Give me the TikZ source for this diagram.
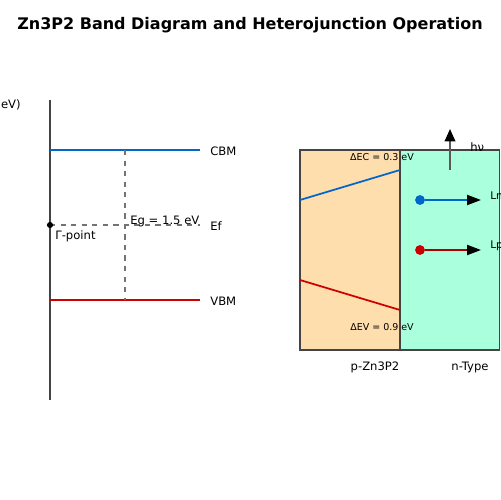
\documentclass[tikz,border=0pt]{standalone}
\usepackage{fontspec}
\setmainfont{DejaVu Sans}
\usetikzlibrary{arrows.meta}
\definecolor{cbblue}{RGB}{0,102,204}
\definecolor{vbred}{RGB}{204,0,0}
\definecolor{pfill}{RGB}{255,222,173}
\definecolor{nfill}{RGB}{170,255,221}
\definecolor{axisgray}{RGB}{68,68,68}
\tikzset{
  lbl/.style={font=\fontsize{6.6}{7}\selectfont, inner sep=0pt},
  small/.style={font=\fontsize{5.4}{6}\selectfont, inner sep=0pt},
  band/.style={line width=1pt},
  guide/.style={dashed, gray!90!black, line width=0.6pt},
  region/.style={draw=axisgray, line width=0.6pt},
  tip/.style={-{Triangle[length=7.9pt,width=5.7pt,color=black]}, line width=1pt},
  dotn/.style={circle, inner sep=0pt, minimum size=5.6pt},
}
\begin{document}
\begin{tikzpicture}[x=0.02cm,y=-0.02cm]
\useasboundingbox (0,0) rectangle (500,500);
\node[font=\bfseries\fontsize{9.1}{11}\selectfont] (title) at (250,25) {Zn3P2 Band Diagram and Heterojunction Operation};
% left band diagram
\coordinate (axtop) at (50,100);
\coordinate (axbot) at (50,400);
\draw[axisgray, line width=0.9pt] (axtop) -- (axbot);
\node[lbl, anchor=east] (ylab) at (21,105) {eV)};
\coordinate (cbl) at (50,150); \coordinate (cbr) at (200,150);
\coordinate (efl) at (50,225); \coordinate (efr) at (200,225);
\coordinate (vbl) at (50,300); \coordinate (vbr) at (200,300);
\coordinate (egt) at (125,150); \coordinate (egb) at (125,300);
\draw[band, cbblue] (cbl) -- (cbr);
\draw[band, vbred] (vbl) -- (vbr);
\draw[guide] (efl) -- (efr);
\draw[guide] (egt) -- (egb);
\node[dotn, fill=black, minimum size=3.5pt] (gam) at (efl) {};
\node[lbl, anchor=west] (cbm) at (210,151) {CBM};
\node[lbl, anchor=west] (ef) at (210,226) {Ef};
\node[lbl, anchor=west] (vbm) at (210,301) {VBM};
\node[lbl, anchor=west] (gp) at (55,236) {Γ-point};
\node[lbl, anchor=west] (eg) at (130,221) {Eg = 1.5 eV};
% right heterojunction
\draw[region, fill=pfill] (300,150) rectangle (400,350);
\draw[region, fill=nfill] (400,150) rectangle (499.5,350);
\draw[axisgray, line width=0.8pt] (400,150) -- (400,350);
\coordinate (pcb1) at (300,200); \coordinate (pcb2) at (400,170);
\coordinate (pvb1) at (300,280); \coordinate (pvb2) at (400,310);
\draw[band, cbblue] (pcb1) -- (pcb2);
\draw[band, vbred] (pvb1) -- (pvb2);
\node[small] (dec) at (382,157) {ΔEC = 0.3 eV};
\node[small] (dev) at (382,327) {ΔEV = 0.9 eV};
\coordinate (hvb) at (450,170);
\coordinate (hvt) at (450,129);
\draw[-{Triangle[length=7pt,width=6pt,color=black]}, gray!70!black, line width=1pt] (hvb) -- (hvt);
\node[lbl, anchor=west] (hv) at (470,147) {hν};
\node[dotn, fill=cbblue] (edot) at (420,200) {};
\node[dotn, fill=vbred] (hdot) at (420,250) {};
\coordinate (eend) at (481,200);
\coordinate (hend) at (481,250);
\draw[tip, cbblue] (edot) -- (eend);
\draw[tip, vbred!85!black] (hdot) -- (hend);
\node[small, font=\fontsize{6}{7}\selectfont, anchor=west] (ln) at (490,196) {Ln};
\node[small, font=\fontsize{6}{7}\selectfont, anchor=west] (lp) at (490,246) {Lp};
\node[lbl] (pl) at (375,367) {p-Zn3P2};
\node[lbl] (nl) at (470,367) {n-Type};
\end{tikzpicture}
\end{document}
